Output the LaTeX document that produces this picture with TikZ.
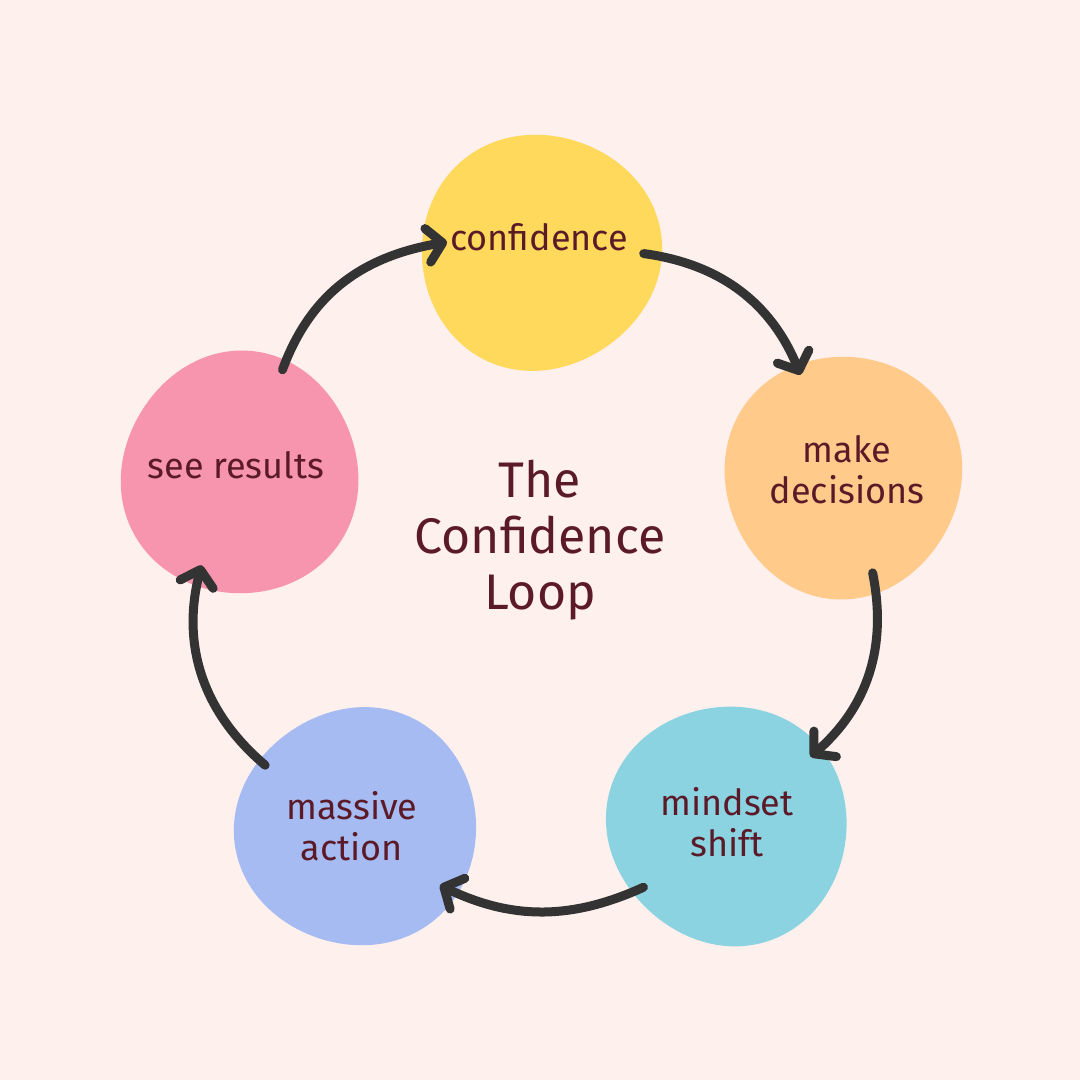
\documentclass[tikz,border=0pt]{standalone}
\usepackage{fontspec}
\setmainfont{Fira Sans}
\usetikzlibrary{arrows.meta}

\definecolor{bgpink}{HTML}{FEF0EC}
\definecolor{yellowblob}{HTML}{FFD95C}
\definecolor{orangeblob}{HTML}{FFCA8A}
\definecolor{cyanblob}{HTML}{8CD3E2}
\definecolor{blueblob}{HTML}{A6BBF2}
\definecolor{pinkblob}{HTML}{F794AE}
\definecolor{arrowgrey}{HTML}{333333}
\definecolor{textmaroon}{HTML}{5B1A28}

% colour, centre x, centre y, radius, wobble phase
\newcommand{\drawblob}[5]{%
  \fill[#1] plot[domain=0:355,samples=72,smooth cycle]
    ({#2+#4*(1+0.018*cos(3*\x+#5)+0.012*cos(2*\x+2*#5))*cos(\x)},
     {#3+#4*(1+0.018*cos(3*\x+#5)+0.012*cos(2*\x+2*#5))*sin(\x)});}

\begin{document}
\begin{tikzpicture}[x=1pt,y=-1pt,
    stage/.style={circle,minimum size=212pt,inner sep=0pt,outer sep=0pt,align=center,
      text=textmaroon,font=\fontsize{36}{41}\selectfont},
    loop arrow/.style={draw=arrowgrey,line width=9pt,line cap=round,
      -{Straight Barb[length=15pt,width=34pt,round]},bend left=#1},
    loop arrow/.default=30]
    % page and background
    \useasboundingbox (0,0) rectangle (1080,1080);
    \fill[bgpink] (0,0) rectangle (1080,1080);

    % blobs
    \drawblob{yellowblob}{540}{252}{119}{20}
    \drawblob{orangeblob}{843}{476}{120}{80}
    \drawblob{cyanblob}{728}{825}{120}{140}
    \drawblob{blueblob}{357}{827}{120}{200}
    \drawblob{pinkblob}{240}{474}{120}{260}

    % stages
    \node[stage] (confidence) at (539,237) {confidence};
    \node[stage] (decisions) at (847,470) {make\\decisions};
    \node[stage] (mindset) at (727,822) {mindset\\shift};
    \node[stage] (action) at (352,826) {massive\\action};
    \node[stage] (results) at (236,465) {see results};

    \node[align=center,text=textmaroon,font=\fontsize{50}{56}\selectfont] (title) at (540,540) {The\\Confidence\\Loop};

    % loop
    \draw[loop arrow,shorten >=-14pt] (results.64) to (confidence.184);
    \draw[loop arrow] (confidence.-9) to (decisions.116);
    \draw[loop arrow] (decisions.-76) to (mindset.38);
    \draw[loop arrow=25] (mindset.218) to (action.-34);
    \draw[loop arrow=32] (action.145) to (results.251);
\end{tikzpicture}
\end{document}
